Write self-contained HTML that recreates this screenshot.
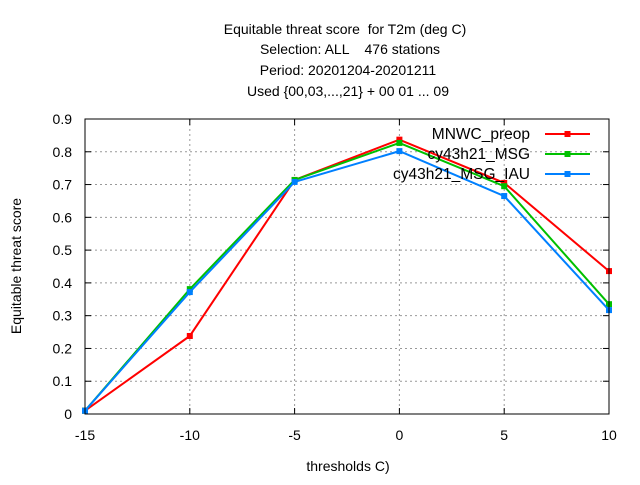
<!DOCTYPE html>
<html><head><meta charset="utf-8"><style>
body{margin:0;background:#fff;}
svg{font-family:"Liberation Sans",sans-serif;font-size:14px;}
text{white-space:pre;}
</style></head><body>
<svg id="c" width="640" height="480">
<g text-anchor="middle" font-size="14">
<text x="345" y="34">Equitable threat score  for T2m (deg C)</text>
<text x="350" y="54">Selection: ALL    476 stations</text>
<text x="348" y="75">Period: 20201204-20201211</text>
<text x="348" y="96">Used {00,03,...,21} + 00 01 ... 09</text>
</g>
<g id="grid"></g><g id="series"></g><g id="legend"></g>
<rect x="85" y="119" width="524" height="295" fill="none" stroke="#000"/>
<text x="348" y="471" text-anchor="middle">thresholds C)</text>
<text transform="translate(21,266) rotate(-90)" text-anchor="middle">Equitable threat score</text>
</svg>
<script>
const categories=[-15,-10,-5,0,5,10];
const xTicks=[-15,-10,-5,0,5,10];
const yTicks=[0,0.1,0.2,0.3,0.4,0.5,0.6,0.7,0.8,0.9];
const seriesNames=["MNWC_preop","cy43h21_MSG","cy43h21_MSG_IAU"];
const mnwc=[0.01,0.238,0.714,0.837,0.705,0.436];
const msg=[0.01,0.381,0.714,0.827,0.695,0.335];
const iau=[0.01,0.372,0.708,0.802,0.665,0.317];
const colors=["#ff0000","#00c000","#0080ff"];
const NS="http://www.w3.org/2000/svg";
const X=v=>85+(v+15)/25*524, Y=v=>414-v/0.9*295;
function mk(t,a,p){const e=document.createElementNS(NS,t);for(const k in a)e.setAttribute(k,a[k]);p.appendChild(e);return e;}
const g=document.getElementById('grid');
yTicks.forEach(v=>{const y=Y(v);
 if(v>0&&v<0.9){const l=mk('line',{x1:85,x2:609,y1:y,y2:y,stroke:'#999','stroke-dasharray':'2,3'},g);
 }
 mk('line',{x1:85,x2:91,y1:y,y2:y,stroke:'#000'},g);mk('line',{x1:603,x2:609,y1:y,y2:y,stroke:'#000'},g);
 const t=mk('text',{x:72,y:y+5,'text-anchor':'end'},g);t.textContent=v===0?'0':v.toFixed(1);
 });
xTicks.forEach(v=>{const x=X(v);
 if(v>-15&&v<10){const l=mk('line',{x1:x,x2:x,y1:119,y2:414,stroke:'#999','stroke-dasharray':'2,3'},g);
 }
 mk('line',{x1:x,x2:x,y1:408,y2:414,stroke:'#000'},g);mk('line',{x1:x,x2:x,y1:119,y2:125,stroke:'#000'},g);
 const t=mk('text',{x:x,y:440,'text-anchor':'middle'},g);t.textContent=v;
 });
const s=document.getElementById('series'),lg=document.getElementById('legend');
[mnwc,msg,iau].forEach((d,i)=>{
 const p=mk('polyline',{points:d.map((v,j)=>X(categories[j])+','+Y(v)).join(' '),fill:'none',stroke:colors[i],'stroke-width':2},s);
 
 d.forEach((v,j)=>{const r=mk('rect',{x:X(categories[j])-3,y:Y(v)-3,width:6,height:6,fill:colors[i]},s);
  });
 const y=134+i*20;
 const t=mk('text',{x:530,y:y+5,'text-anchor':'end','font-size':'15.5'},lg);t.textContent=seriesNames[i];
 
 const l=mk('line',{x1:545,x2:590,y1:y,y2:y,stroke:colors[i],'stroke-width':2},lg);
 
 mk('rect',{x:564.5,y:y-3,width:6,height:6,fill:colors[i]},lg);
});
</script>
</body></html>
